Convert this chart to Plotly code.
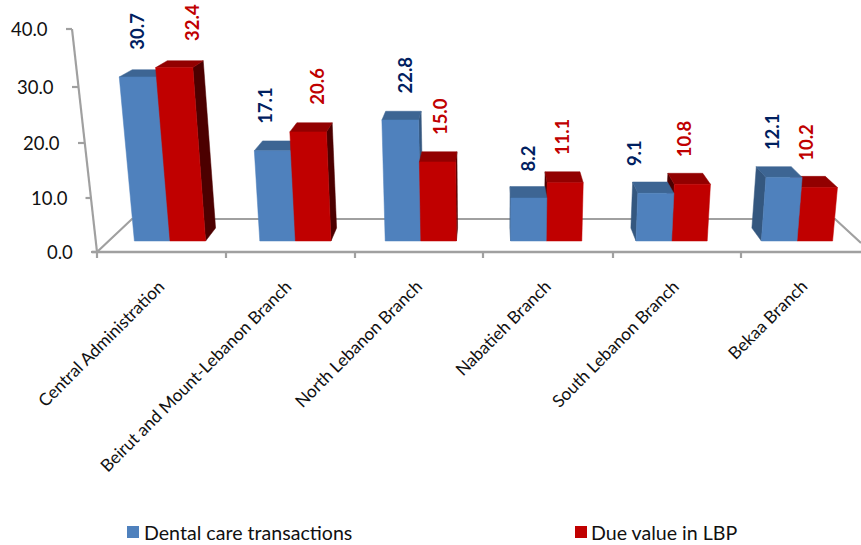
import plotly.graph_objects as go

categories = ["Central Administration", "Beirut and Mount-Lebanon Branch", "North Lebanon Branch",
              "Nabatieh Branch", "South Lebanon Branch", "Bekaa Branch"]
dental = [30.7, 17.1, 22.8, 8.2, 9.1, 12.1]
due = [32.4, 20.6, 15.0, 11.1, 10.8, 10.2]
y_ticks = [0, 10, 20, 30, 40]
series_names = ["Dental care transactions", "Due value in LBP"]

W, H = 861, 545
FONT = "Lato"
GRAY = "#A0A0A0"
# perspective settings
PX_PER_CAT, PX_PER_VAL = 125.4, 5.2
X_ORIGIN, Y_ORIGIN = 170, 241
BAR = 0.284
CV = (490 - X_ORIGIN) / PX_PER_CAT
VV = (Y_ORIGIN + 130) / PX_PER_VAL
SPREAD, DEPTH, RISE = 0.001386, 0.035, 0.0009

# frame geometry (pixel overlay)
tick_px_y = [252, 198, 143, 87, 29]
tick_px_x = [97, 91.5, 84, 78, 72]
cat_tick_px = [97, 226, 355, 483, 613, 741]
cat_label_anchor = [(171, 273), (299, 273), (429, 273), (558, 273), (686, 273), (814, 273)]
label_dx_blue = [-15, -12, 2, 0, -19, -7]
label_dx_red = [4, 4, 2, -2, -6, -9]


def front(c, v):
    return c + (c - CV) * SPREAD * v, v * (1 + RISE * v)


def back(c, v):
    x, y = front(c, v)
    return x + DEPTH * (CV - x), y + DEPTH * (VV - y)


COLORS = [
    dict(front="#4F81BD", top="#3D6593", side="#34577F"),
    dict(front="#C00000", top="#920000", side="#4C0000"),
]

fig = go.Figure()


def frame_line(xs, ys, width=2.2):
    fig.add_trace(go.Scatter(x=xs, y=ys, mode="lines", line=dict(color=GRAY, width=width),
                             showlegend=False, hoverinfo="skip", xaxis="x", yaxis="y"))


def face(points, color):
    xs = [p[0] for p in points] + [points[0][0]]
    ys = [p[1] for p in points] + [points[0][1]]
    fig.add_trace(go.Scatter(x=xs, y=ys, mode="lines", fill="toself", fillcolor=color,
                             line=dict(color=color, width=0.5), showlegend=False,
                             hoverinfo="skip", xaxis="x2", yaxis="y2"))


def bar(c0, c1, v, col):
    if (c0 + c1) / 2 < CV:  # right side visible
        face([front(c1, 0), front(c1, v), back(c1, v), back(c1, 0)], col["side"])
    else:
        face([front(c0, 0), front(c0, v), back(c0, v), back(c0, 0)], col["side"])
    face([front(c0, v), front(c1, v), back(c1, v), back(c0, v)], col["top"])
    face([front(c0, 0), front(c1, 0), front(c1, v), front(c0, v)], col["front"])


# frame: floor
frame_line([92, 861], [252, 252], 2.6)
frame_line([97, 132, 835, 861], [252, 219, 219, 243])
# frame: slanted value axis
frame_line([97, tick_px_x[-1]], [tick_px_y[0], tick_px_y[-1]])
for tx, ty in zip(tick_px_x, tick_px_y):
    frame_line([tx - 6, tx], [ty, ty])
for tx in cat_tick_px:
    frame_line([tx, tx], [252, 258])

# bars, painted back to front
for i in range(len(categories)):
    blue = lambda: bar(i - BAR, i, dental[i], COLORS[0])
    red = lambda: bar(i, i + BAR, due[i], COLORS[1])
    if i < CV:
        blue(); red()
    else:
        red(); blue()

ann = []
# value tick labels
for t, tx, ty in zip(y_ticks, tick_px_x, tick_px_y):
    ann.append(dict(x=tx - 22, y=ty, xref="x", yref="y", text=f"{t:.1f}", showarrow=False,
                    xanchor="right", yanchor="middle", font=dict(family=FONT, size=18.5, color="#111111")))
# category labels
for name, (ax, ay) in zip(categories, cat_label_anchor):
    ann.append(dict(x=ax, y=ay, xref="x", yref="y", text=name, showarrow=False, textangle=-45,
                    xanchor="right", yanchor="top", font=dict(family=FONT, size=17.2, color="#111111")))
# data labels
for i in range(len(categories)):
    for vals, dxs, off, color in ((dental, label_dx_blue, -BAR / 2, "#002060"),
                                  (due, label_dx_red, BAR / 2, "#C00000")):
        ann.append(dict(x=i + off + dxs[i] / PX_PER_CAT, y=front(i, vals[i])[1] + 4.8, xref="x2", yref="y2",
                        text=f"<b>{vals[i]:.1f}</b>", showarrow=False, textangle=-90,
                        xanchor="center", yanchor="bottom",
                        font=dict(family=FONT, size=18.5, color=color)))

# legend
shapes = []
for name, sx, tx, color in zip(series_names, (127, 575), (142, 589), ("#4F81BD", "#C00000")):
    shapes.append(dict(type="rect", xref="x", yref="y", x0=sx, x1=sx + 12, y0=526, y1=538,
                       fillcolor=color, line=dict(width=0)))
    ann.append(dict(x=tx, y=532, xref="x", yref="y", text=name, showarrow=False,
                    xanchor="left", yanchor="middle", font=dict(family=FONT, size=19.6, color="#111111")))

hidden = dict(visible=False, fixedrange=True)
fig.update_layout(
    width=W, height=H, autosize=False,
    margin=dict(l=0, r=0, t=0, b=0),
    paper_bgcolor="white", plot_bgcolor="white", showlegend=False,
    xaxis=dict(range=[0, W], domain=[0, 1], **hidden),
    yaxis=dict(range=[H, 0], domain=[0, 1], **hidden),
    xaxis2=dict(range=[-X_ORIGIN / PX_PER_CAT, (W - X_ORIGIN) / PX_PER_CAT], overlaying="x", **hidden),
    yaxis2=dict(range=[(Y_ORIGIN - H) / PX_PER_VAL, Y_ORIGIN / PX_PER_VAL], overlaying="y", **hidden),
    annotations=ann, shapes=shapes,
)
fig.write_html("out.html", config=dict(displayModeBar=False),
               post_script="document.body.style.margin='0';document.body.style.overflow='hidden';")
